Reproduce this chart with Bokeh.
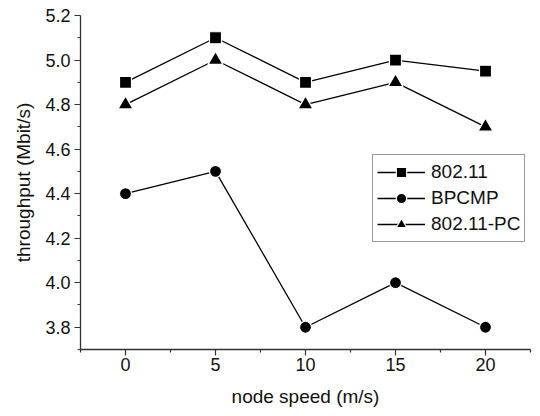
from bokeh.plotting import figure
from bokeh.models import Range1d, FixedTicker, Legend, LegendItem, CustomJSTickFormatter
from bokeh.embed import file_html
from bokeh.resources import INLINE

speeds = [0, 5, 10, 15, 20]
s80211 = [4.9, 5.1, 4.9, 5.0, 4.95]
bpcmp = [4.4, 4.5, 3.8, 4.0, 3.8]
s80211pc = [4.8, 5.0, 4.8, 4.9, 4.7]

x_ticks = [0, 5, 10, 15, 20]
y_ticks = [3.8, 4.0, 4.2, 4.4, 4.6, 4.8, 5.0, 5.2]

p = figure(width=540, height=416, output_backend="svg", toolbar_location=None,
           x_range=Range1d(-2.5, 22.5), y_range=Range1d(3.7, 5.2),
           min_border_left=80, min_border_right=10, min_border_top=15, min_border_bottom=67)
p.outline_line_color = None
p.xgrid.visible = False
p.ygrid.visible = False
p.background_fill_color = "white"
p.border_fill_color = "white"

FONT = "Liberation Sans"
for ax in (p.xaxis[0], p.yaxis[0]):
    ax.axis_line_color = "#333333"
    ax.axis_line_width = 1.3
    ax.major_tick_line_color = "#333333"
    ax.minor_tick_line_color = "#333333"
    ax.major_tick_line_width = 1.2
    ax.minor_tick_line_width = 1.2
    ax.major_tick_in = 0
    ax.major_tick_out = 6
    ax.minor_tick_in = 0
    ax.minor_tick_out = 3
    ax.major_label_text_font = FONT
    ax.major_label_text_font_size = "18px"
    ax.major_label_text_color = "#111111"
    ax.axis_label_text_font = FONT
    ax.axis_label_text_font_size = "19px"
    ax.axis_label_text_font_style = "normal"
    ax.axis_label_text_color = "#111111"

p.xaxis.ticker = FixedTicker(ticks=x_ticks, minor_ticks=[-2.5, 2.5, 7.5, 12.5, 17.5, 22.5])
p.yaxis.ticker = FixedTicker(ticks=y_ticks, minor_ticks=[3.7, 3.9, 4.1, 4.3, 4.5, 4.7, 4.9, 5.1])
p.yaxis.formatter = CustomJSTickFormatter(code="return tick.toFixed(1);")
p.xaxis.axis_label = "node speed (m/s)"
p.yaxis.axis_label = "throughput (Mbit/s)"
p.xaxis.major_label_standoff = 2
p.yaxis.major_label_standoff = 4
p.xaxis.axis_label_standoff = 12
p.yaxis.axis_label_standoff = 8

series = [("802.11", s80211, "square", 12),
          ("BPCMP", bpcmp, "circle", 12),
          ("802.11-PC", s80211pc, "triangle", 15)]
items = []
for name, ys, marker, size in series:
    l = p.line(speeds, ys, line_color="black", line_width=1.3)
    s = p.scatter(speeds, ys, marker=marker, size=size, fill_color="black",
                  line_color="white", line_width=1.2)
    items.append(LegendItem(label=name, renderers=[l, s]))

legend = Legend(items=items, location=(292, 107))
legend.label_text_font = FONT
legend.label_text_font_size = "19px"
legend.label_text_color = "#111111"
legend.border_line_color = "#333333"
legend.border_line_width = 1.2
legend.padding = 4
legend.spacing = 0
legend.margin = 0
legend.glyph_width = 48
legend.glyph_height = 26
legend.label_height = 26
legend.label_standoff = 6
legend.background_fill_alpha = 1
p.add_layout(legend, "center")

open("out.html", "w").write(file_html(p, INLINE))
